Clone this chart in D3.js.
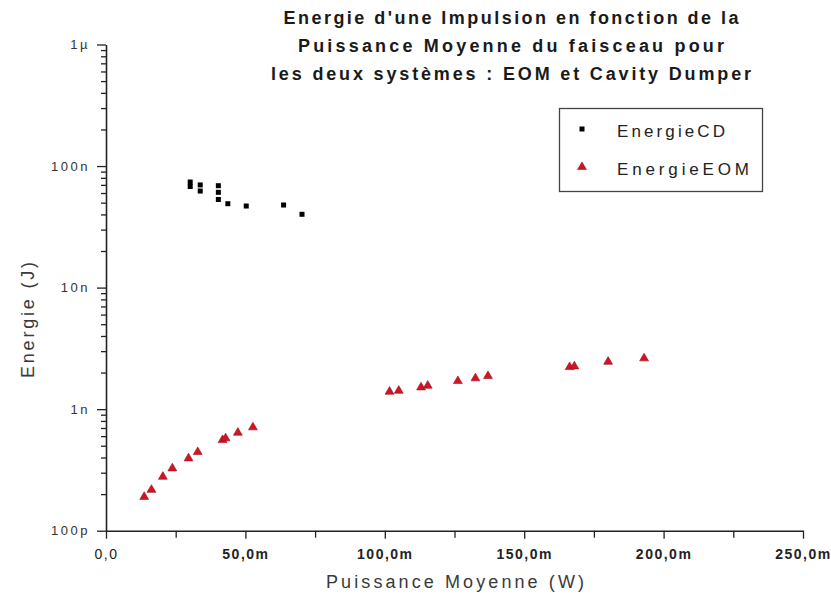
<!DOCTYPE html>
<html>
<head>
<meta charset="utf-8">
<script src="https://cdn.jsdelivr.net/npm/d3@7"></script>
<style>
  body { margin: 0; background: #fff; }
  svg { display: block; }
  text { font-family: "Liberation Sans", Arial, sans-serif; }
</style>
</head>
<body>
<svg id="chart" width="831" height="602"></svg>
<script>
// ---- data (x in mW, y in J) ----
const cdPower = [30.2, 30.2, 33.8, 33.8, 40.3, 40.3, 40.3, 43.7, 50.3, 63.7, 70.3];
const cdEnergy = [73.9e-9, 67.9e-9, 69.9e-9, 62.3e-9, 68.9e-9, 60.8e-9, 53.1e-9, 49.0e-9, 46.9e-9, 47.8e-9, 40.1e-9];

const eomPower = [13.7, 16.3, 20.4, 23.8, 29.6, 32.9, 41.8, 42.9, 47.3, 52.7,
                  101.7, 105.0, 113.0, 115.4, 126.2, 132.5, 137.0, 166.3, 168.0, 180.1, 193.0];
const eomEnergy = [0.190e-9, 0.217e-9, 0.278e-9, 0.326e-9, 0.394e-9, 0.444e-9, 0.557e-9, 0.576e-9, 0.640e-9, 0.709e-9,
                   1.392e-9, 1.419e-9, 1.512e-9, 1.560e-9, 1.704e-9, 1.794e-9, 1.874e-9, 2.22e-9, 2.25e-9, 2.455e-9, 2.62e-9];

const xTickValues = [0, 50, 100, 150, 200, 250];
const xTickLabels = ["0,0", "50,0m", "100,0m", "150,0m", "200,0m", "250,0m"];
const xMinorValues = [25, 75, 125, 175, 225];
const yTickValues = [1e-10, 1e-9, 1e-8, 1e-7, 1e-6];
const yTickLabels = ["100p", "1n", "10n", "100n", "1µ"];
const titleLines = ["Energie d'une Impulsion en fonction de la",
                    "Puissance Moyenne du faisceau pour",
                    "les deux systèmes : EOM et Cavity Dumper"];
const seriesNames = ["EnergieCD", "EnergieEOM"];

// ---- drawing ----
const svg = d3.select("#chart");
const x = d3.scaleLinear().domain([0, 250]).range([106, 803]);
const y = d3.scaleLog().domain([1e-10, 1e-6]).range([530.7, 44.5]);

const yMinor = [];
for (let e = -10; e < -6; e++) for (let k = 2; k <= 9; k++) yMinor.push(k * Math.pow(10, e));

// X axis
const gx = svg.append("g").attr("transform", `translate(0,${y(1e-10)})`);
gx.call(d3.axisBottom(x).tickValues(xTickValues).tickSizeInner(8).tickSizeOuter(0)
  .tickPadding(10).tickFormat((d, i) => xTickLabels[i]));
const gxm = svg.append("g").attr("transform", `translate(0,${y(1e-10)})`);
gxm.call(d3.axisBottom(x).tickValues(xMinorValues).tickSize(7).tickFormat(""));
gxm.select(".domain").remove();

// Y axis
const gym = svg.append("g").attr("transform", `translate(${x(0)},0)`);
gym.call(d3.axisLeft(y).tickValues(yMinor).tickSize(5).tickFormat(""));
gym.select(".domain").remove();
const gy = svg.append("g").attr("transform", `translate(${x(0)},0)`);
gy.call(d3.axisLeft(y).tickValues(yTickValues).tickSizeInner(9).tickSizeOuter(0)
  .tickPadding(7).tickFormat((d, i) => yTickLabels[i]));

svg.selectAll(".domain").attr("stroke", "#222").attr("stroke-width", 1.6);
svg.selectAll(".tick line").attr("stroke", "#222").attr("stroke-width", 1.3);

gx.selectAll(".tick text")
  .style("font-size", "14px")
  .style("letter-spacing", "1.5px")
  .style("font-weight", (d, i) => i === 0 ? "normal" : "bold")
  .style("fill", "#222");
gy.selectAll(".tick text")
  .style("font-size", "13px")
  .style("letter-spacing", "2.5px")
  .style("fill", "#333");

// Axis titles
svg.append("text")
  .attr("x", 455).attr("y", 588)
  .attr("text-anchor", "middle")
  .attr("textLength", 258).attr("lengthAdjust", "spacing")
  .style("font-size", "18px")
  .style("fill", "#3a3a3a")
  .text("Puissance Moyenne (W)");
svg.append("text")
  .attr("transform", "translate(34,320) rotate(-90)")
  .attr("text-anchor", "middle")
  .attr("textLength", 116).attr("lengthAdjust", "spacing")
  .style("font-size", "18px")
  .style("fill", "#3a3a3a")
  .text("Energie (J)");

// Title
const titleWidths = [455, 426, 480];
titleLines.forEach((t, i) => {
  svg.append("text")
    .attr("x", 511).attr("y", 24 + i * 28)
    .attr("text-anchor", "middle")
    .attr("textLength", titleWidths[i]).attr("lengthAdjust", "spacing")
    .style("font-size", "18px").style("font-weight", "bold")
    .style("fill", "#1a1a1a")
    .text(t);
});

// Data: squares
const sqW = 5, sqH = 5;
svg.append("g").selectAll("rect")
  .data(cdPower.map((p, i) => [p, cdEnergy[i]]))
  .join("rect")
  .attr("x", d => x(d[0]) - sqW / 2).attr("y", d => y(d[1]) - sqH / 2)
  .attr("width", sqW).attr("height", sqH)
  .attr("fill", "#000");

// Data: triangles
const tri = d3.symbol().type(d3.symbolTriangle).size(34);
svg.append("g").selectAll("path")
  .data(eomPower.map((p, i) => [p, eomEnergy[i]]))
  .join("path")
  .attr("d", tri)
  .attr("transform", d => `translate(${x(d[0])},${y(d[1])})`)
  .attr("fill", "#d01423").attr("stroke", "#9a0f1e").attr("stroke-width", 0.6);

// Legend
const lg = svg.append("g");
lg.append("rect").attr("x", 559.5).attr("y", 108.5).attr("width", 203).attr("height", 83)
  .attr("fill", "#fff").attr("stroke", "#444").attr("stroke-width", 1.3);
lg.append("rect").attr("x", 582 - 2.5).attr("y", 129 - 2.5).attr("width", 5).attr("height", 5).attr("fill", "#000");
lg.append("path").attr("d", tri).attr("transform", "translate(582,167)")
  .attr("fill", "#d01423").attr("stroke", "#9a0f1e").attr("stroke-width", 0.6);
lg.append("text").attr("x", 617).attr("y", 137).attr("textLength", 108).attr("lengthAdjust", "spacing")
  .style("font-size", "17px").style("fill", "#222").text(seriesNames[0]);
lg.append("text").attr("x", 617).attr("y", 175).attr("textLength", 132).attr("lengthAdjust", "spacing")
  .style("font-size", "17px").style("fill", "#222").text(seriesNames[1]);
</script>
</body>
</html>
